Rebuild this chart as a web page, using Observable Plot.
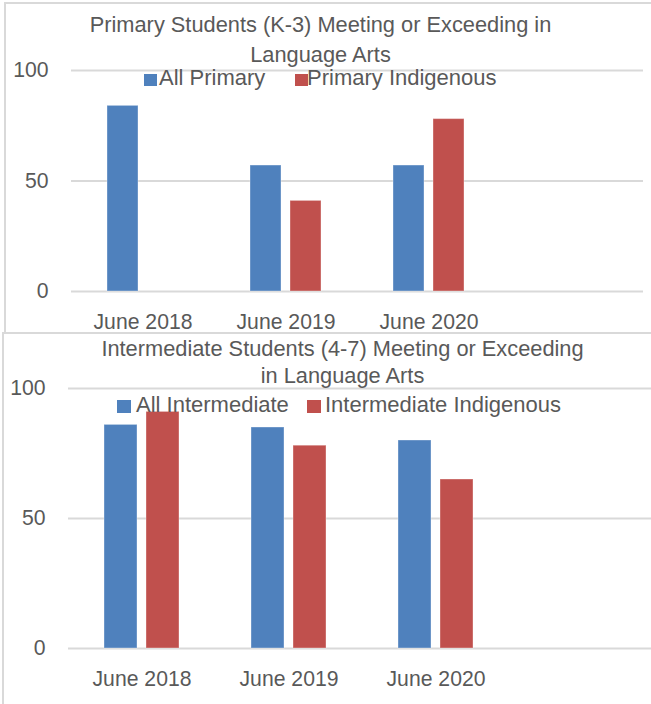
<!DOCTYPE html>
<html><head><meta charset="utf-8">
<script src="https://cdn.jsdelivr.net/npm/d3@7"></script>
<script src="https://cdn.jsdelivr.net/npm/@observablehq/plot@0.6"></script>
<style>
html,body{margin:0;padding:0;background:#fff;overflow:hidden;}
#root{position:relative;width:651px;height:704px;overflow:hidden;font-family:'Liberation Sans',Arial,sans-serif;color:#595959;}
.abs{position:absolute;white-space:nowrap;line-height:1;}
.wrap{position:absolute;left:0;}
.border{position:absolute;background:#d9d9d9;z-index:5;}
</style></head><body><div id="root"></div>
<script>
// ---- data ----
const categories = ["June 2018", "June 2019", "June 2020", ""];
const primarySeries = ["All Primary", "Primary Indigenous"];
const primaryAll = [84, 57, 57, null];
const primaryIndigenous = [null, 41, 78, null];
const intermediateSeries = ["All Intermediate", "Intermediate Indigenous"];
const intermediateAll = [86, 85, 80, null];
const intermediateIndigenous = [91, 78, 65, null];
const yTicks = [0, 50, 100];
const seriesColors = ["#4f81bd", "#c0504d"];
const primaryTitle = ["Primary Students (K-3) Meeting or Exceeding in", "Language Arts"];
const intermediateTitle = ["Intermediate Students (4-7) Meeting or Exceeding", "in Language Arts"];

function rowsOf(series, valuesList) {
  const rows = [];
  categories.forEach((c, i) => {
    series.forEach((s, j) => {
      const v = valuesList[j][i];
      if (v != null) rows.push({category: c, series: s, value: v});
    });
  });
  return rows;
}
// one gridline per tick in every category band, so empty bands keep their grid
const gridRows = categories.flatMap(c => yTicks.map(t => ({category: c, tick: t})));

const root = document.getElementById("root");
const FONT = "'Liberation Sans', Arial, sans-serif";

function text(str, x, baseline, fs, center) {
  const d = document.createElement("div");
  d.className = "abs";
  d.textContent = str;
  d.style.fontSize = fs + "px";
  d.style.top = (baseline - 0.8465 * fs) + "px";
  if (center) { d.style.left = (x - 400) + "px"; d.style.width = "800px"; d.style.textAlign = "center"; }
  else d.style.left = x + "px";
  root.appendChild(d);
}
function box(cls, x, y, w, h, color) {
  const d = document.createElement("div");
  d.className = cls;
  Object.assign(d.style, {position: "absolute", left: x + "px", top: y + "px", width: w + "px", height: h + "px"});
  if (color) d.style.background = color;
  root.appendChild(d);
}

function chart({rows, series, width, height, mL, mR, mT, mB}) {
  return Plot.plot({
    width, height,
    marginLeft: mL, marginRight: mR, marginTop: mT, marginBottom: mB,
    style: {fontSize: "21.2px", fontFamily: FONT, color: "#595959", background: "transparent", maxWidth: "none", overflow: "visible"},
    fx: {domain: categories, padding: 0, axis: "bottom", tickSize: 0, tickPadding: 22, label: null},
    x: {domain: series, axis: null, paddingInner: 0.22, paddingOuter: 0.857},
    y: {domain: [0, 100], ticks: yTicks, tickSize: 0, tickPadding: 23, label: null},
    color: {domain: series, range: seriesColors},
    marks: [
      Plot.ruleY(gridRows, {fx: "category", y: "tick", stroke: "#d9d9d9", strokeWidth: 2}),
      Plot.barY(rows, {fx: "category", x: "series", y: "value", fill: "series", stroke: "#ffffff", strokeOpacity: 0.35, strokeWidth: 1})
    ]
  });
}

// top panel
const w1 = document.createElement("div"); w1.className = "wrap"; w1.style.top = "0px";
w1.appendChild(chart({rows: rowsOf(primarySeries, [primaryAll, primaryIndigenous]), series: primarySeries,
  width: 651, height: 333, mL: 70, mR: 8, mT: 70, mB: 42}));
root.appendChild(w1);

// bottom panel
const w2 = document.createElement("div"); w2.className = "wrap"; w2.style.top = "333px";
w2.appendChild(chart({rows: rowsOf(intermediateSeries, [intermediateAll, intermediateIndigenous]), series: intermediateSeries,
  width: 656, height: 371, mL: 68, mR: 0, mT: 55, mB: 56}));
root.appendChild(w2);

// titles
text(primaryTitle[0], 320.5, 32, 21.8, true);
text(primaryTitle[1], 320.5, 62, 21.8, true);
text(intermediateTitle[0], 342.5, 356, 21.8, true);
text(intermediateTitle[1], 342.5, 383, 21.8, true);

// legends
box("sw", 144, 74, 13, 12, seriesColors[0]);
text(primarySeries[0], 159, 86, 22);
box("sw", 295, 74, 13, 12, seriesColors[1]);
text(primarySeries[1], 307, 86, 22);
box("sw", 117, 400, 14, 13, seriesColors[0]);
text(intermediateSeries[0], 136, 413, 22);
box("sw", 307, 400, 14, 13, seriesColors[1]);
text(intermediateSeries[1], 325, 413, 22);

// panel borders
box("border", 4, 2, 647, 2);
box("border", 4, 2, 2, 330);
box("border", 2, 332, 649, 2);
box("border", 2, 332, 2, 372);
</script></body></html>
